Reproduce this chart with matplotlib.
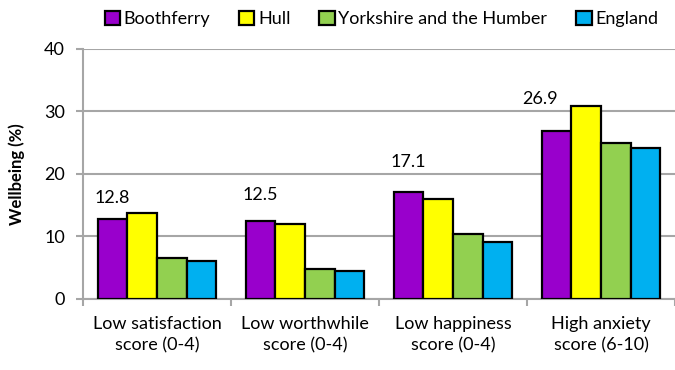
import numpy as np
import matplotlib.pyplot as plt
from matplotlib.ticker import FixedLocator

plt.rcParams['font.family'] = ['Lato', 'DejaVu Sans']

categories = ["Low satisfaction\nscore (0-4)", "Low worthwhile\nscore (0-4)",
              "Low happiness\nscore (0-4)", "High anxiety\nscore (6-10)"]
series = ["Boothferry", "Hull", "Yorkshire and the Humber", "England"]
boothferry = [12.8, 12.5, 17.1, 26.9]
hull = [13.8, 12.0, 16.0, 30.9]
yorkshire = [6.5, 4.8, 10.4, 24.9]
england = [6.0, 4.4, 9.1, 24.1]
colours = ["#9900CC", "#FFFF00", "#92D050", "#00B0F0"]

# offsets (points) for the Boothferry value labels
label_dx = [0, 0, 0, -12]
label_dy = [9, 13, 16, 17]

fig = plt.figure(figsize=(6.75, 3.7), dpi=100)
ax = fig.add_axes([0.123, 0.192, 0.877, 0.676])

x = np.arange(len(categories))
w = 0.2
for i, (name, vals) in enumerate(zip(series, [boothferry, hull, yorkshire, england])):
    ax.bar(x + (i - 1.5) * w, vals, w, color=colours[i], edgecolor="black",
           linewidth=1.6, label=name, zorder=3)

for i, v in enumerate(boothferry):
    ax.annotate(f"{v:.1f}", (x[i] - 1.5 * w, v), xytext=(label_dx[i], label_dy[i]),
                textcoords="offset points", ha="center", va="bottom", fontsize=13)

ax.set_xlim(-0.5, len(categories) - 0.5)
ax.set_ylim(0, 40)
ax.set_yticks([0, 10, 20, 30, 40])
ax.yaxis.grid(True, color="#a6a6a6", linewidth=1.5, zorder=0)
ax.set_axisbelow(True)
ax.set_xticks(x)
ax.set_xticklabels(categories, fontsize=13, linespacing=1.45)
ax.xaxis.set_minor_locator(FixedLocator(np.arange(-0.5, len(categories), 1.0)))
ax.tick_params(axis="x", which="major", length=0, pad=12)
ax.tick_params(axis="x", which="minor", length=5, color="#a6a6a6", width=1.5)
ax.tick_params(axis="y", length=5, color="#a6a6a6", width=1.5, labelsize=13, pad=8)
for s in ["top", "right"]:
    ax.spines[s].set_visible(False)
for s in ["left", "bottom"]:
    ax.spines[s].set_color("#a6a6a6")
    ax.spines[s].set_linewidth(1.5)
ax.set_ylabel("Wellbeing (%)", fontsize=12, fontweight="bold", labelpad=14)

fig.legend(loc="upper center", bbox_to_anchor=(0.565, 1.015), ncol=4, frameon=False,
           fontsize=13, handlelength=0.85, handleheight=0.85, handletextpad=0.2,
           columnspacing=1.6)

fig.savefig("out.png", dpi=100)
